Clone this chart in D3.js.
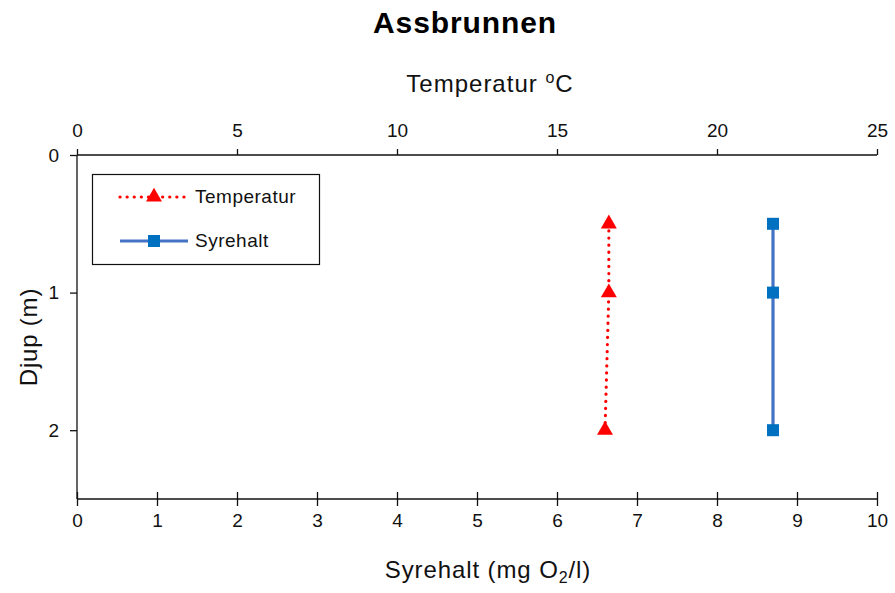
<!DOCTYPE html>
<html>
<head>
<meta charset="utf-8">
<script src="https://cdn.jsdelivr.net/npm/d3@7"></script>
<style>
  html, body { margin: 0; padding: 0; background: #fff; }
  svg { display: block; font-family: "Liberation Sans", Arial, sans-serif; }
</style>
</head>
<body>
<svg id="chart" width="895" height="593"></svg>
<script>
// Depth profile data for Assbrunnen
const depths = [0.5, 1, 2];
const temperature = [16.62, 16.62, 16.5];   // °C
const oxygen = [8.7, 8.7, 8.7];             // mg O2/l
const tempTicks = [0, 5, 10, 15, 20, 25];
const oxygenTicks = [0, 1, 2, 3, 4, 5, 6, 7, 8, 9, 10];
const depthTicks = [0, 1, 2];
const seriesNames = ["Temperatur", "Syrehalt"];

(function () {
const svg = d3.select("#chart");
const plotL = 77, plotR = 877, plotT = 155, plotB = 499;

const xTemp = d3.scaleLinear().domain([0, 25]).range([plotL, plotR]);
const xOx = d3.scaleLinear().domain([0, 10]).range([plotL, plotR]);
const y = d3.scaleLinear().domain([0, 2.5]).range([plotT, plotB]);

const tempColor = "#FF0000";
const oxLine = "#4472C4";
const oxMarker = "#0070C0";
const ink = "#111";

// Title
svg.append("text").attr("x", 465).attr("y", 33)
  .attr("text-anchor", "middle").attr("font-size", 30).attr("font-weight", "bold")
  .attr("letter-spacing", 0.9).attr("fill", "#000")
  .text("Assbrunnen");

// Top axis (temperature)
const topAxis = svg.append("g").attr("transform", `translate(0,${plotT})`)
  .call(d3.axisTop(xTemp).tickValues(tempTicks).tickSize(6).tickPadding(12).tickFormat(d3.format("d")));
// Bottom axis (oxygen)
const botAxis = svg.append("g").attr("transform", `translate(0,${plotB})`)
  .call(d3.axisBottom(xOx).tickValues(oxygenTicks).tickSize(7).tickPadding(8).tickFormat(d3.format("d")));
botAxis.selectAll(".tick line").attr("y1", -7);
// Left axis (depth)
const leftAxis = svg.append("g").attr("transform", `translate(${plotL},0)`)
  .call(d3.axisLeft(y).tickValues(depthTicks).tickSize(7).tickPadding(11).tickFormat(d3.format("d")));

[topAxis, botAxis, leftAxis].forEach(g => {
  g.select(".domain").attr("stroke", ink).attr("stroke-width", 1.3);
  g.selectAll(".tick line").attr("stroke", ink).attr("stroke-width", 1.3);
  g.selectAll(".tick text").attr("font-size", 19).attr("fill", ink)
    .attr("font-family", "Liberation Sans, Arial, sans-serif");
});
// Strip outer end-caps from domain paths
topAxis.select(".domain").attr("d", `M${plotL},0H${plotR}`);
botAxis.select(".domain").attr("d", `M${plotL},0H${plotR}`);
leftAxis.select(".domain").attr("d", `M0,${plotT}V${plotB}`);

// Axis titles
const tTitle = svg.append("text").attr("x", 490).attr("y", 92)
  .attr("text-anchor", "middle").attr("font-size", 24).attr("letter-spacing", 1).attr("fill", ink);
tTitle.append("tspan").text("Temperatur ");
tTitle.append("tspan").attr("font-size", 16).attr("dy", -9).text("o");
tTitle.append("tspan").attr("dy", 9).text("C");

const oTitle = svg.append("text").attr("x", 488).attr("y", 578)
  .attr("text-anchor", "middle").attr("font-size", 24).attr("letter-spacing", 0.9).attr("fill", ink);
oTitle.append("tspan").text("Syrehalt (mg  O");
oTitle.append("tspan").attr("font-size", 16).attr("dy", 5).text("2");
oTitle.append("tspan").attr("dy", -5).text("/l)");

svg.append("text").attr("transform", "translate(37,337) rotate(-90)")
  .attr("text-anchor", "middle").attr("font-size", 24).attr("letter-spacing", 0.8)
  .attr("fill", ink).text("Djup (m)");

// Series
const tempData = depths.map((d, i) => ({ d, v: temperature[i] }));
const oxData = depths.map((d, i) => ({ d, v: oxygen[i] }));

svg.append("path").datum(tempData)
  .attr("d", d3.line().x(p => xTemp(p.v)).y(p => y(p.d)))
  .attr("fill", "none").attr("stroke", tempColor).attr("stroke-width", 3.2)
  .attr("stroke-dasharray", "0.1 7").attr("stroke-linecap", "round");

const tri = d3.symbol().type(d3.symbolTriangle).size(110);
svg.selectAll(".tri").data(tempData).enter().append("path")
  .attr("transform", p => `translate(${xTemp(p.v)},${y(p.d)})`)
  .attr("d", tri).attr("fill", tempColor);

svg.append("path").datum(oxData)
  .attr("d", d3.line().x(p => xOx(p.v)).y(p => y(p.d)))
  .attr("fill", "none").attr("stroke", oxLine).attr("stroke-width", 3.2);

svg.selectAll(".sq").data(oxData).enter().append("rect")
  .attr("x", p => xOx(p.v) - 6).attr("y", p => y(p.d) - 6)
  .attr("width", 12).attr("height", 12).attr("fill", oxMarker);

// Legend
const lg = svg.append("g");
lg.append("rect").attr("x", 92.5).attr("y", 174.5).attr("width", 227).attr("height", 90)
  .attr("fill", "#fff").attr("stroke", ink).attr("stroke-width", 1.2);

lg.append("line").attr("x1", 120).attr("x2", 185).attr("y1", 197).attr("y2", 197)
  .attr("stroke", tempColor).attr("stroke-width", 3.2)
  .attr("stroke-dasharray", "0.1 7").attr("stroke-linecap", "round");
lg.append("path").attr("transform", "translate(154,197)").attr("d", tri).attr("fill", tempColor);
lg.append("text").attr("x", 195).attr("y", 203).attr("font-size", 19).attr("letter-spacing", 0.5)
  .attr("fill", ink).text(seriesNames[0]);

lg.append("line").attr("x1", 120).attr("x2", 188).attr("y1", 241).attr("y2", 241)
  .attr("stroke", oxLine).attr("stroke-width", 3.2);
lg.append("rect").attr("x", 148).attr("y", 235).attr("width", 12).attr("height", 12).attr("fill", oxMarker);
lg.append("text").attr("x", 195).attr("y", 247).attr("font-size", 19).attr("letter-spacing", 0.5)
  .attr("fill", ink).text(seriesNames[1]);
})();
</script>
</body>
</html>
